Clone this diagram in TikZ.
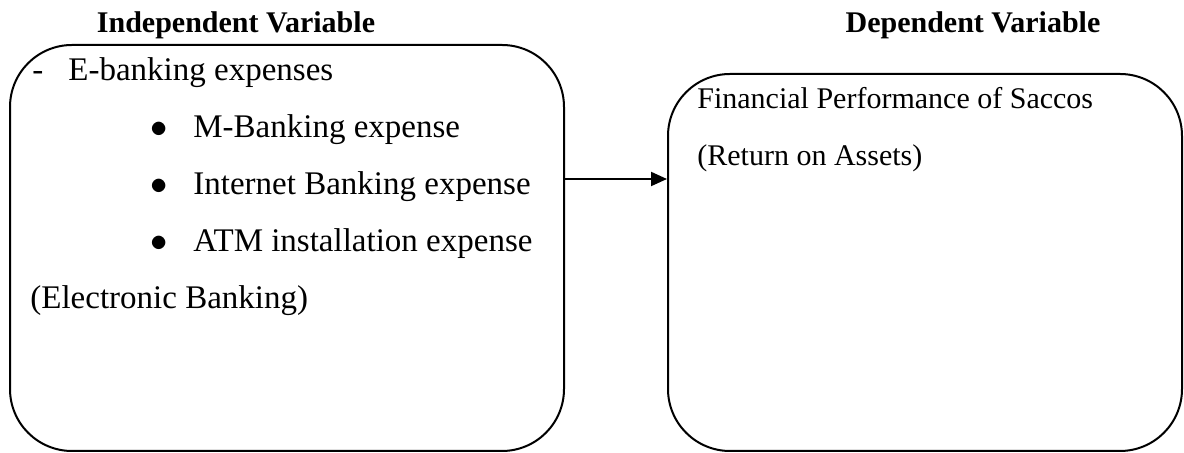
\documentclass[tikz,border=0pt]{standalone}
\usepackage{fontspec}
\setmainfont{Liberation Serif}
\usepackage{tikz}
\usetikzlibrary{arrows.meta}
\tikzstyle{varbox} = [draw, line width=1pt, rounded corners=31pt, inner sep=0pt]
\tikzstyle{vartext} = [anchor=base west, inner sep=0pt, font=\fontsize{16.5}{19}\selectfont]
\tikzstyle{deptext} = [anchor=base west, inner sep=0pt, font=\fontsize{15}{17}\selectfont]
\tikzstyle{vartitle} = [anchor=base, inner sep=0pt, font=\fontsize{15}{17}\selectfont\bfseries]

\begin{document}
\begin{tikzpicture}[x=0.5pt,y=-0.5pt]
  \useasboundingbox (0,0) rectangle (1184,453);
  \node[varbox, minimum width=554pt*0.5, minimum height=406pt*0.5] (indep) at (287,248) {};
  \node[varbox, minimum width=514pt*0.5, minimum height=377pt*0.5] (dep) at (925,262.5) {};
  \node[vartitle] (indeptitle) at (236,33) {Independent Variable};
  \node[vartitle] (deptitle) at (973,33) {Dependent Variable};
  \node[vartext] (dash) at (32,81) {-};
  \node[vartext] (ebank) at (68,81) {E-banking expenses};
  \node[vartext] (b1) at (150,138) {$\bullet$};
  \node[vartext] (mbank) at (193,138) {M-Banking expense};
  \node[vartext] (b2) at (150,195) {$\bullet$};
  \node[vartext] (ibank) at (193,195) {Internet Banking expense};
  \node[vartext] (b3) at (150,252) {$\bullet$};
  \node[vartext] (atm) at (193,252) {ATM installation expense};
  \node[vartext] (eb) at (30,309) {(Electronic Banking)};
  \node[deptext] (perf) at (697,109) {Financial Performance of Saccos};
  \node[deptext] (roa) at (697,166) {(Return on Assets)};
  \coordinate (link) at (0,179);
  \draw[-{Triangle[length=8pt,width=7pt]}, line width=1pt] (indep.east |- link) -- (dep.west |- link);
\end{tikzpicture}
\end{document}
